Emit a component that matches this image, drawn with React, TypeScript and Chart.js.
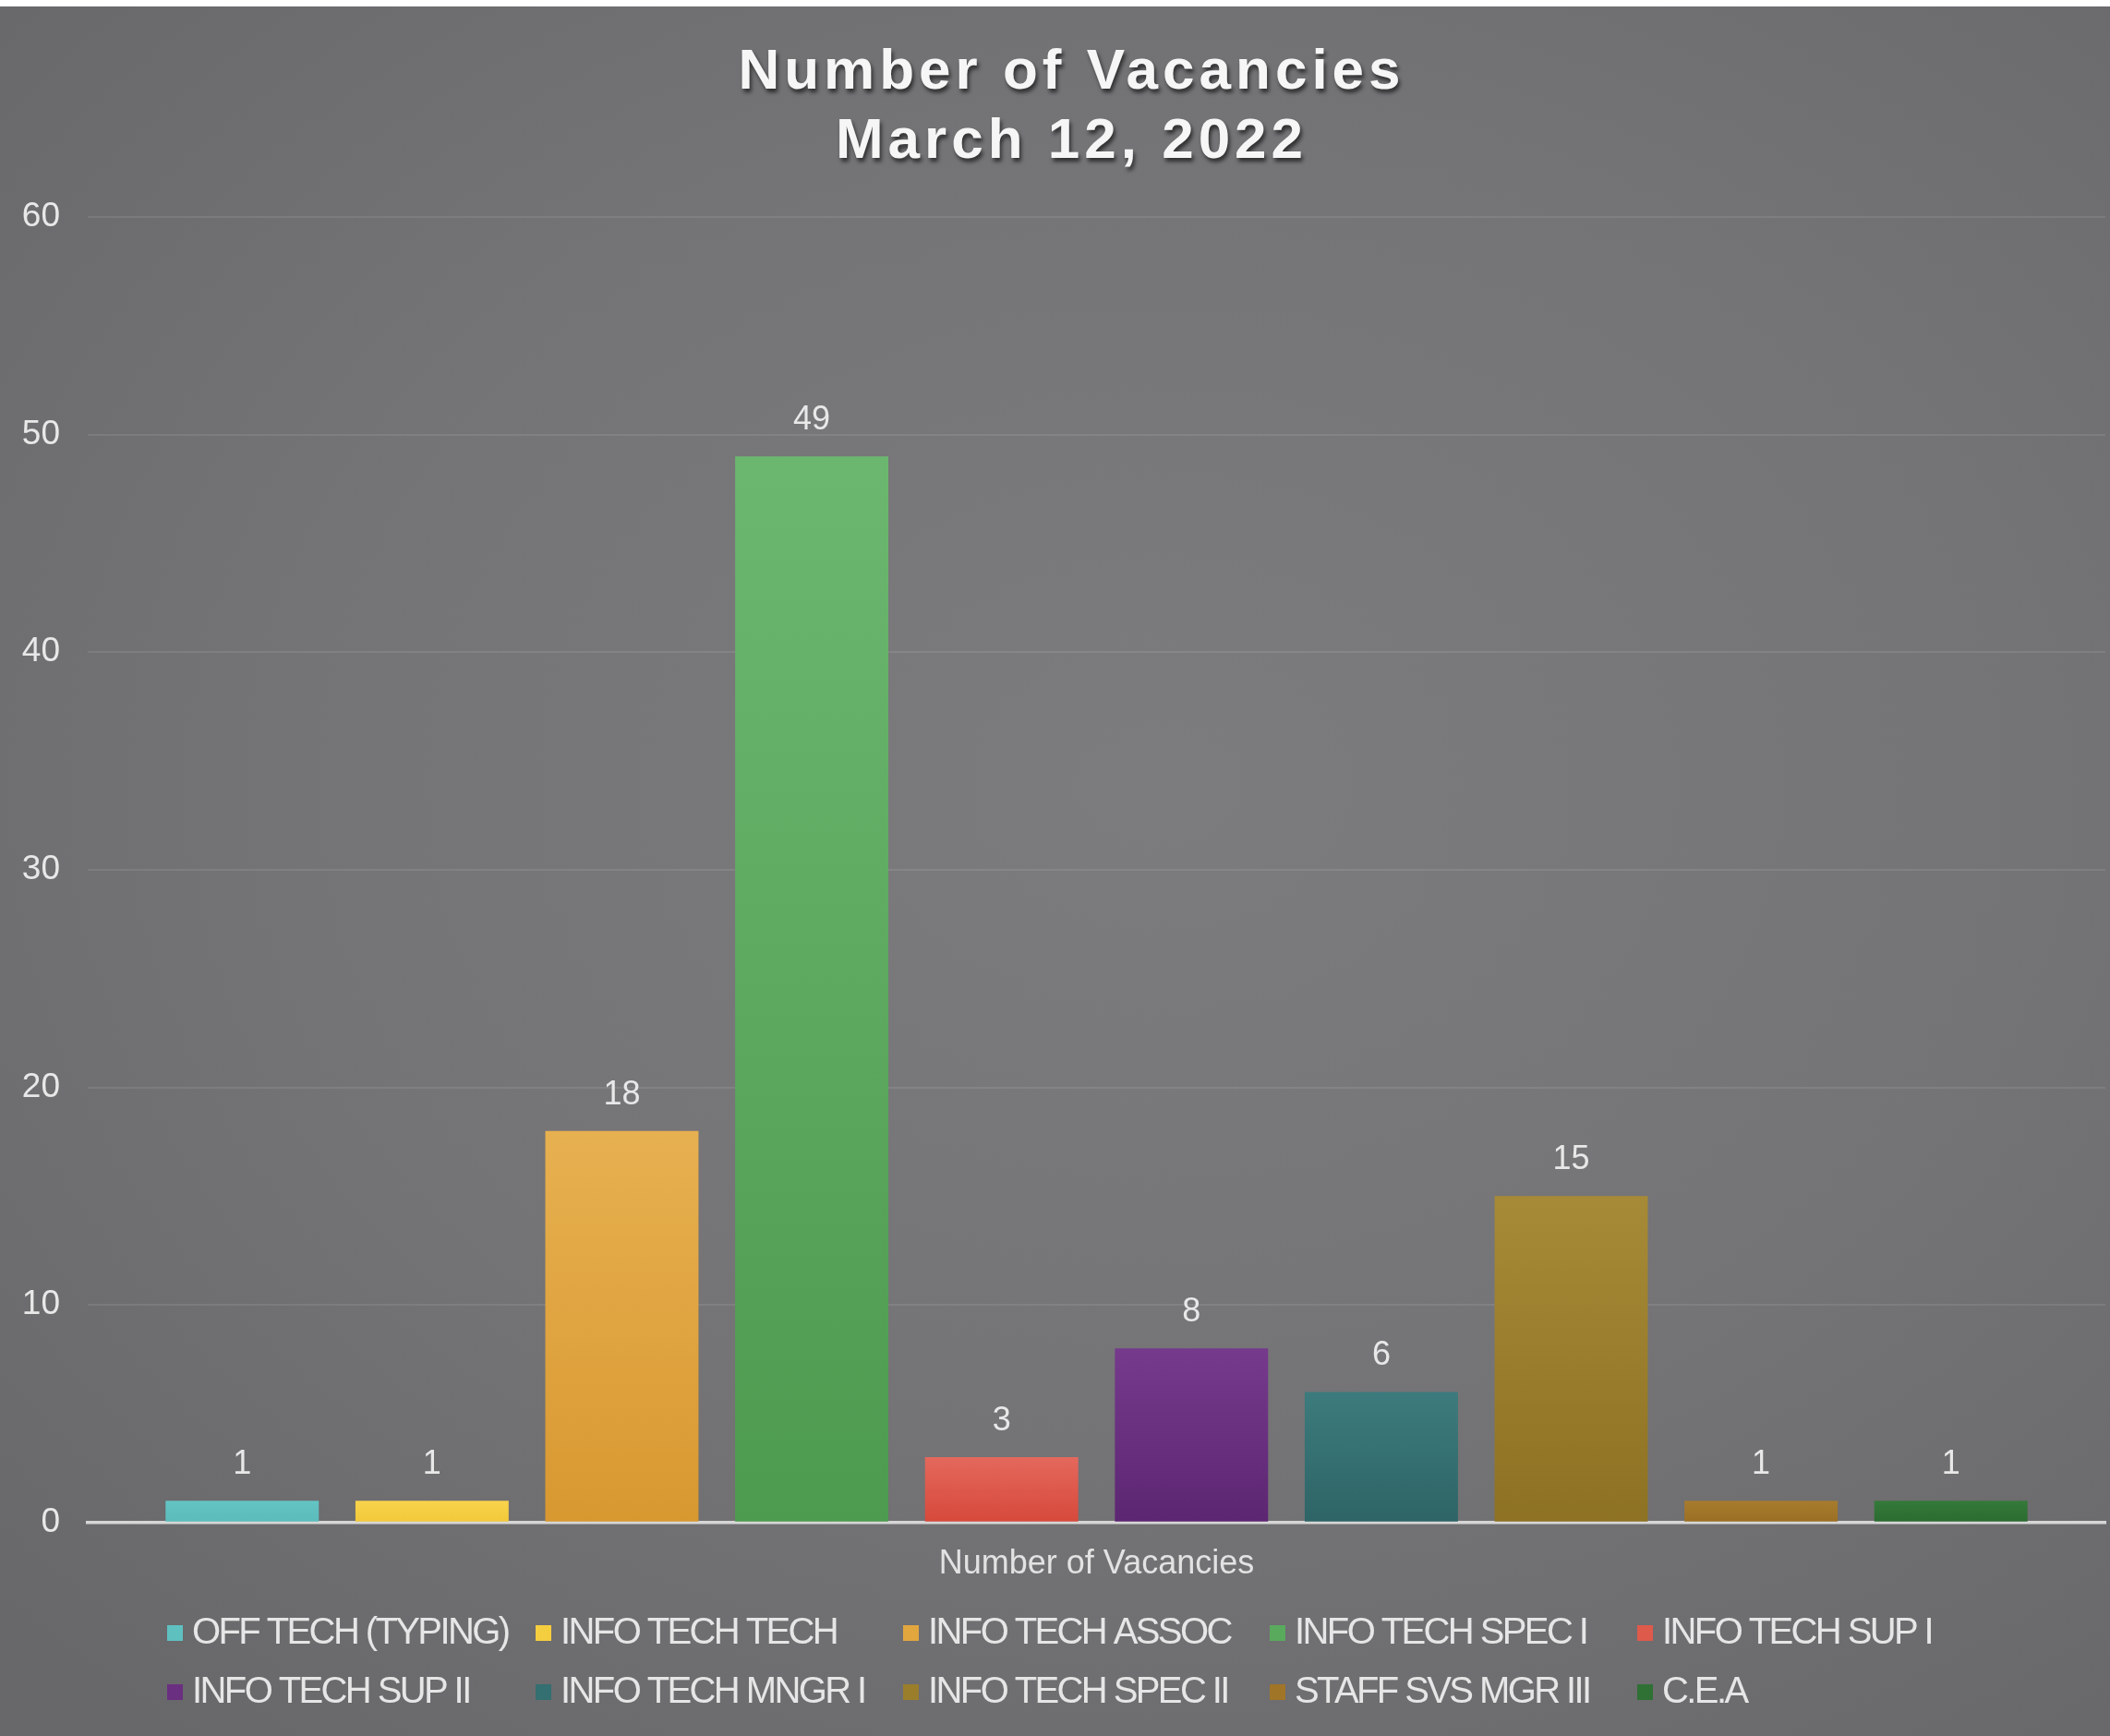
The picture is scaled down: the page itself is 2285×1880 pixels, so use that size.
import React, { useEffect, useRef } from "react";
import { Chart, registerables } from "chart.js";

Chart.register(...registerables);

const titleLines = ["Number of Vacancies", "March 12, 2022"];
const categories = ["Number of Vacancies"];
const seriesNames = [
  "OFF TECH (TYPING)",
  "INFO TECH TECH",
  "INFO TECH ASSOC",
  "INFO TECH SPEC I",
  "INFO TECH SUP I",
  "INFO TECH SUP II",
  "INFO TECH MNGR I",
  "INFO TECH SPEC II",
  "STAFF SVS MGR III",
  "C.E.A",
];
const seriesValues = [1, 1, 18, 49, 3, 8, 6, 15, 1, 1];
const yTickValues = [0, 10, 20, 30, 40, 50, 60];
const topColors = [
  "#64c4c4", "#f8d44c", "#e7b050", "#6cb770", "#e4685c",
  "#763a8c", "#3c7b7d", "#a68a37", "#a77c2e", "#347a39",
];
const bottomColors = [
  "#5bbbbb", "#f2c838", "#d89830", "#4d9b4f", "#d6493b",
  "#5c2672", "#2e6466", "#8e7223", "#9b6f23", "#2b6a30",
];
const legendColors = [
  "#5fc0c0", "#f5ce40", "#e2a63e", "#5aaa5e", "#de5a4b",
  "#6a2f80", "#346f71", "#9a7e2c", "#a17528", "#2f7034",
];

const FONT = "'Liberation Sans', Arial, Helvetica, sans-serif";

const titlePlugin = {
  id: "customTitle",
  afterDraw(chart: any) {
    const ctx = chart.ctx;
    ctx.save();
    ctx.font = `bold 62px ${FONT}`;
    (ctx as any).letterSpacing = "5px";
    ctx.textAlign = "left";
    ctx.textBaseline = "middle";
    ctx.fillStyle = "#f6f6f6";
    ctx.shadowColor = "rgba(0,0,0,0.6)";
    ctx.shadowOffsetX = 2;
    ctx.shadowOffsetY = 4;
    ctx.shadowBlur = 4;
    const cx = 1158;
    const ys = [72, 147];
    titleLines.forEach((line, i) => {
      const w = ctx.measureText(line).width - 5;
      ctx.fillText(line, cx - w / 2, ys[i]);
    });
    ctx.restore();
  },
};

const valueLabelPlugin = {
  id: "valueLabels",
  afterDatasetsDraw(chart: any) {
    const ctx = chart.ctx;
    ctx.save();
    ctx.font = `36px ${FONT}`;
    ctx.fillStyle = "#e8e8e8";
    ctx.textAlign = "center";
    ctx.textBaseline = "middle";
    chart.data.datasets.forEach((ds: any, i: number) => {
      const meta = chart.getDatasetMeta(i);
      meta.data.forEach((bar: any, j: number) => {
        ctx.fillText(String(ds.data[j]), bar.x, bar.y - 39);
      });
    });
    ctx.restore();
  },
};

const gridLegendPlugin = {
  id: "gridLegend",
  afterDraw(chart: any) {
    const ctx = chart.ctx;
    ctx.save();
    ctx.font = `40px ${FONT}`;
    (ctx as any).letterSpacing = "-2.6px";
    ctx.textAlign = "left";
    ctx.textBaseline = "middle";
    const colX = [181, 580, 978, 1375, 1773];
    const rowY = [1761, 1825];
    chart.data.datasets.forEach((ds: any, i: number) => {
      const x = colX[i % 5];
      const y = rowY[Math.floor(i / 5)];
      ctx.fillStyle = ds.legendColor;
      ctx.fillRect(x, y - 8, 17, 17);
      ctx.fillStyle = "#e6e6e6";
      ctx.fillText(ds.label, x + 27, y + 1);
    });
    ctx.restore();
  },
};

export default function App() {
  const canvasRef = useRef<HTMLCanvasElement | null>(null);

  useEffect(() => {
    if (!canvasRef.current) return;
    const datasets = seriesNames.map((name, i) => ({
      label: name,
      data: [seriesValues[i]],
      legendColor: legendColors[i],
      backgroundColor: (c: any) => {
        const chart = c.chart;
        const area = chart.chartArea;
        if (!area || !chart.scales.y) return legendColors[i];
        const yTop = chart.scales.y.getPixelForValue(seriesValues[i]);
        const yBot = chart.scales.y.getPixelForValue(0);
        const g = chart.ctx.createLinearGradient(0, yTop, 0, yBot);
        g.addColorStop(0, topColors[i]);
        g.addColorStop(1, bottomColors[i]);
        return g;
      },
      borderWidth: 0,
      categoryPercentage: 0.941,
      barPercentage: 0.807,
    }));

    const chart = new Chart(canvasRef.current, {
      type: "bar",
      data: { labels: categories, datasets: datasets as any },
      options: {
        responsive: false,
        animation: false,
        devicePixelRatio: 1,
        layout: { padding: { top: 228, bottom: 140, left: 0, right: 5 } },
        plugins: {
          legend: { display: false },
          title: { display: false },
          tooltip: { enabled: false },
        },
        scales: {
          x: {
            type: "category",
            offset: true,
            grid: { display: false, drawTicks: false },
            border: { display: true, color: "#d6d6d6", width: 3.5 },
            ticks: {
              color: "#e2e2e2",
              font: { family: FONT, size: 36 },
              padding: 24,
            },
          },
          y: {
            min: 0,
            max: 60,
            afterFit: (scale: any) => {
              scale.width = 95;
            },
            afterBuildTicks: (scale: any) => {
              scale.ticks = yTickValues.map((v) => ({ value: v }));
            },
            grid: {
              color: "rgba(255,255,255,0.09)",
              lineWidth: 2,
              drawTicks: false,
            },
            border: { display: false },
            ticks: {
              color: "#e8e8e8",
              font: { family: FONT, size: 37 },
              padding: 30,
            },
          },
        },
      },
      plugins: [valueLabelPlugin, titlePlugin, gridLegendPlugin],
    });
    return () => chart.destroy();
  }, []);

  return (
    <div
      style={{
        position: "absolute",
        top: 7,
        left: 0,
        width: 2285,
        height: 1873,
        background:
          "radial-gradient(ellipse 75% 70% at 55% 45%, #7c7b7e 0%, #747376 55%, #68676a 100%)",
      }}
    >
      <canvas
        ref={canvasRef}
        width={2285}
        height={1873}
        style={{ display: "block", width: 2285, height: 1873 }}
      />
    </div>
  );
}
